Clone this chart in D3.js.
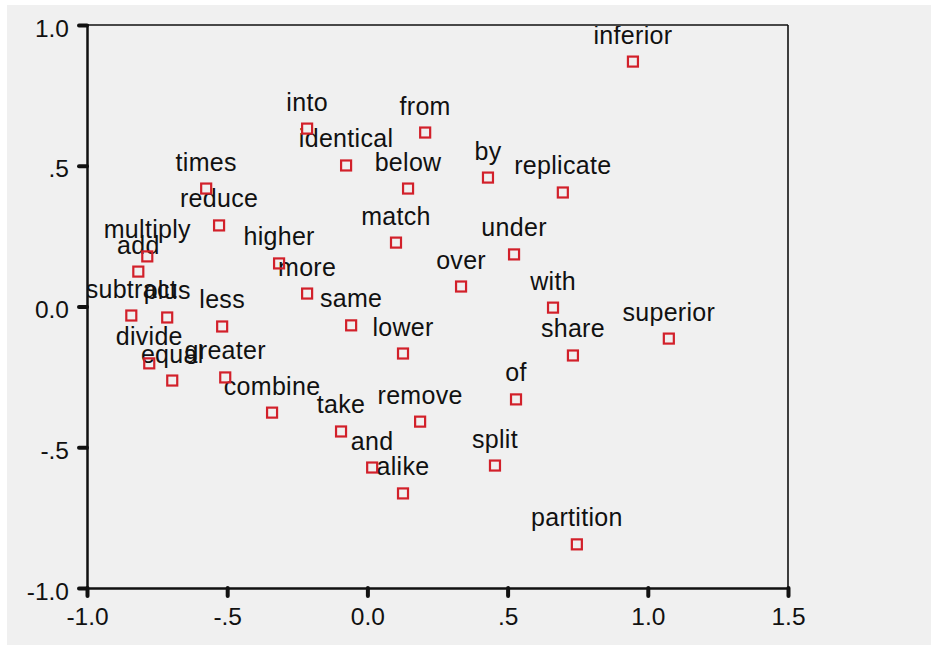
<!DOCTYPE html>
<html><head><meta charset="utf-8">
<script src="https://cdn.jsdelivr.net/npm/d3@7"></script>
<style>
html,body{margin:0;padding:0;background:#ffffff;}
svg{display:block;}
text{font-family:"Liberation Sans",Arial,Helvetica,sans-serif;fill:#111;}
</style></head>
<body>
<svg id="chart" width="931" height="649"></svg>
<script>
const words = ["into","identical","from","below","match","by","replicate","inferior","under","over",
  "with","superior","share","of","split","partition","alike","and","take","remove",
  "lower","same","more","higher","reduce","times","multiply","add","subtract","plus",
  "less","divide","equal","greater","combine"];
const dim1 = [-0.215,-0.076,0.206,0.145,0.102,0.430,0.697,0.947,0.523,0.334,
  0.662,1.075,0.733,0.530,0.455,0.747,0.127,0.017,-0.094,0.188,
  0.127,-0.058,-0.215,-0.315,-0.529,-0.575,-0.785,-0.817,-0.842,-0.714,
  -0.518,-0.778,-0.696,-0.507,-0.340];
const dim2 = [0.632,0.501,0.618,0.419,0.227,0.458,0.405,0.870,0.185,0.071,
  -0.004,-0.114,-0.174,-0.330,-0.565,-0.845,-0.664,-0.572,-0.444,-0.409,
  -0.167,-0.067,0.046,0.153,0.288,0.419,0.178,0.124,-0.032,-0.039,
  -0.071,-0.202,-0.263,-0.252,-0.377];
const xTicks = [-1.0,-0.5,0.0,0.5,1.0,1.5];
const xTickLabels = ["-1.0","-.5","0.0",".5","1.0","1.5"];
const yTicks = [-1.0,-0.5,0.0,0.5,1.0];
const yTickLabels = ["-1.0","-.5","0.0",".5","1.0"];

const svg = d3.select("#chart");
svg.append("rect").attr("x",7).attr("y",5).attr("width",924).attr("height",640).attr("fill","#f0f0f0");

const pL = 87, pR = 788, pT = 25, pB = 588;
const x = d3.scaleLinear().domain([-1,1.5]).range([pL,pR]);
const y = d3.scaleLinear().domain([-1,1]).range([pB,pT]);

svg.append("defs").append("clipPath").attr("id","plotclip")
  .append("rect").attr("x",pL).attr("y",pT+1).attr("width",pR-pL).attr("height",pB-pT);

svg.append("line").attr("x1",pL).attr("x2",pR).attr("y1",pT).attr("y2",pT).attr("stroke","#111").attr("stroke-width",1.6);
svg.append("line").attr("x1",pR).attr("x2",pR).attr("y1",pT).attr("y2",pB).attr("stroke","#111").attr("stroke-width",1.6);

const xAxis = d3.axisBottom(x).tickValues(xTicks).tickFormat((d,i)=>xTickLabels[i]).tickSize(8).tickPadding(11);
const yAxis = d3.axisLeft(y).tickValues(yTicks).tickFormat((d,i)=>yTickLabels[i]).tickSize(8).tickPadding(10);

const gx = svg.append("g").attr("transform",`translate(0,${pB})`).call(xAxis);
const gy = svg.append("g").attr("transform",`translate(${pL},0)`).call(yAxis);
[gx,gy].forEach(g=>{
  g.select(".domain").attr("stroke","#111").attr("stroke-width",2.5);
  g.selectAll(".tick line").attr("stroke","#111").attr("stroke-width",4).attr("stroke-linecap","round");
  g.selectAll(".tick text").style("font-size","24.5px").attr("fill","#1a1a1a")
    .style("font-family","'Liberation Sans',Arial,sans-serif");
});
gx.selectAll(".tick text").attr("dy","0.75em");
gy.selectAll(".tick text").attr("dy","0.45em");

const data = words.map((w,i)=>({w, a:dim1[i], b:dim2[i]}));
const plot = svg.append("g").attr("clip-path","url(#plotclip)");

plot.selectAll("text.lbl").data(data).join("text").attr("class","lbl")
  .attr("x",d=>x(d.a)).attr("y",d=>y(d.b)-18)
  .attr("text-anchor","middle").style("font-size","25px").style("letter-spacing","0.3px").attr("fill","#111")
  .text(d=>d.w);

plot.selectAll("rect.pt").data(data).join("rect").attr("class","pt")
  .attr("x",d=>x(d.a)-5).attr("y",d=>y(d.b)-5).attr("width",10).attr("height",10)
  .attr("fill","none").attr("stroke","#d2202a").attr("stroke-width",2.2);
</script>
</body></html>
